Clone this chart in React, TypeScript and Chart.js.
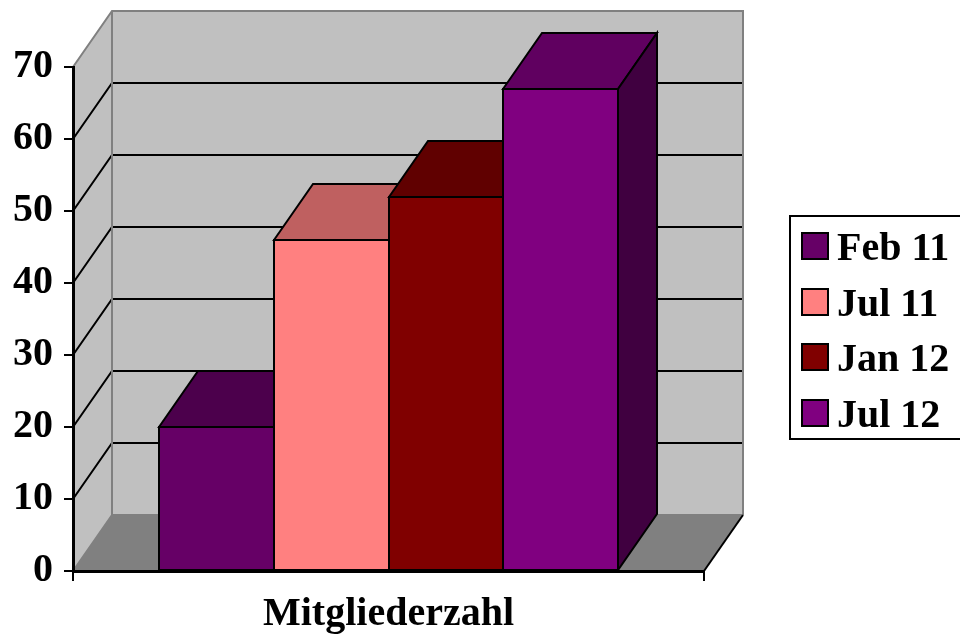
import React, { useEffect, useRef } from "react";
import { Chart, registerables } from "chart.js";

Chart.register(...registerables);

const categories = ["Mitgliederzahl"];
const seriesLabels = ["Feb 11", "Jul 11", "Jan 12", "Jul 12"];
const feb11 = [20];
const jul11 = [46];
const jan12 = [52];
const jul12 = [67];
const seriesValues = [feb11, jul11, jan12, jul12];
const frontColors = ["#660066", "#FF8080", "#800000", "#800080"];
const topColors = ["#4C004C", "#BF6060", "#600000", "#600060"];
const sideColors = ["#330033", "#804040", "#400000", "#400040"];
const yMin = 0;
const yMax = 70;
const yStep = 10;

const DX = 39;
const DY = 56;
const FONT = '"Liberation Serif", "Times New Roman", serif';

const wallsPlugin = {
  id: "walls3d",
  beforeDraw(chart: any) {
    const { ctx, chartArea } = chart;
    const { left, right, top, bottom } = chartArea;
    const yScale = chart.scales.y;
    ctx.save();
    ctx.fillStyle = "#C0C0C0";
    ctx.fillRect(left + DX, top - DY, right - left, bottom - top);
    ctx.beginPath();
    ctx.moveTo(left, top);
    ctx.lineTo(left + DX, top - DY);
    ctx.lineTo(left + DX, bottom - DY);
    ctx.lineTo(left, bottom);
    ctx.closePath();
    ctx.fill();
    ctx.fillStyle = "#808080";
    ctx.beginPath();
    ctx.moveTo(left, bottom);
    ctx.lineTo(left + DX, bottom - DY);
    ctx.lineTo(right + DX, bottom - DY);
    ctx.lineTo(right, bottom);
    ctx.closePath();
    ctx.fill();
    ctx.strokeStyle = "#000";
    ctx.lineWidth = 2;
    for (let v = yMin + yStep; v < yMax; v += yStep) {
      const py = Math.round(yScale.getPixelForValue(v));
      ctx.beginPath();
      ctx.moveTo(left, py);
      ctx.lineTo(left + DX, py - DY);
      ctx.lineTo(right + DX, py - DY);
      ctx.stroke();
    }
    ctx.strokeStyle = "#808080";
    ctx.lineWidth = 2;
    ctx.beginPath();
    ctx.moveTo(left, top);
    ctx.lineTo(left + DX, top - DY);
    ctx.lineTo(right + DX, top - DY);
    ctx.lineTo(right + DX, bottom - DY);
    ctx.moveTo(left + DX, top - DY);
    ctx.lineTo(left + DX, bottom - DY);
    ctx.lineTo(right + DX, bottom - DY);
    ctx.moveTo(left, bottom);
    ctx.lineTo(left + DX, bottom - DY);
    ctx.stroke();
    ctx.strokeStyle = "#000";
    ctx.lineWidth = 2;
    ctx.beginPath();
    ctx.moveTo(right, bottom);
    ctx.lineTo(right + DX, bottom - DY);
    ctx.stroke();
    ctx.restore();
  },
  afterDatasetsDraw(chart: any) {
    const { ctx } = chart;
    ctx.save();
    ctx.strokeStyle = "#000";
    ctx.lineWidth = 2;
    ctx.lineJoin = "miter";
    for (let i = 0; i < seriesValues.length; i++) {
      const meta = chart.getDatasetMeta(i);
      meta.data.forEach((el: any) => {
        const { x, y, base, width } = el.getProps(["x", "y", "base", "width"], true);
        const l = Math.round(x - width / 2);
        const r = Math.round(x + width / 2);
        const ty = Math.round(y);
        ctx.fillStyle = frontColors[i];
        ctx.beginPath();
        ctx.rect(l, ty, r - l, base - ty);
        ctx.fill();
        ctx.stroke();
        ctx.fillStyle = topColors[i];
        ctx.beginPath();
        ctx.moveTo(l, ty);
        ctx.lineTo(l + DX, ty - DY);
        ctx.lineTo(r + DX, ty - DY);
        ctx.lineTo(r, ty);
        ctx.closePath();
        ctx.fill();
        ctx.stroke();
        ctx.fillStyle = sideColors[i];
        ctx.beginPath();
        ctx.moveTo(r, ty);
        ctx.lineTo(r + DX, ty - DY);
        ctx.lineTo(r + DX, base - DY);
        ctx.lineTo(r, base);
        ctx.closePath();
        ctx.fill();
        ctx.stroke();
      });
    }
    ctx.restore();
  },
  afterDraw(chart: any) {
    const { ctx } = chart;
    ctx.save();
    const bx = 790, by = 216, bw = 175, bh = 223;
    ctx.fillStyle = "#fff";
    ctx.fillRect(bx, by, bw, bh);
    ctx.strokeStyle = "#000";
    ctx.lineWidth = 2;
    ctx.strokeRect(bx, by, bw, bh);
    ctx.font = `bold 40px ${FONT}`;
    ctx.textBaseline = "alphabetic";
    ctx.textAlign = "left";
    for (let i = 0; i < seriesLabels.length; i++) {
      const sy = Math.round(233 + i * 55.7);
      ctx.fillStyle = frontColors[i];
      ctx.fillRect(802, sy, 26, 26);
      ctx.lineWidth = 2;
      ctx.strokeRect(802, sy, 26, 26);
      ctx.fillStyle = "#000";
      ctx.fillText(chart.data.datasets[i].label, 837, sy + 27);
    }
    ctx.restore();
  },
};

export default function App() {
  const ref = useRef<HTMLCanvasElement>(null);
  useEffect(() => {
    if (!ref.current) return;
    const chart = new Chart(ref.current, {
      type: "bar",
      data: {
        labels: categories,
        datasets: seriesLabels.map((label, i) => ({
          label,
          data: seriesValues[i],
          backgroundColor: frontColors[i],
          borderWidth: 0,
          categoryPercentage: 0.727,
          barPercentage: 1,
        })),
      },
      options: {
        animation: false,
        responsive: false,
        devicePixelRatio: 1,
        layout: { padding: { left: 0, right: 256, top: 67, bottom: 0 } },
        plugins: {
          legend: { display: false },
          tooltip: { enabled: false },
          title: { display: false },
        },
        scales: {
          x: {
            type: "category",
            grid: {
              display: true,
              drawOnChartArea: false,
              drawTicks: true,
              tickLength: 10,
              color: "#000",
              lineWidth: 2,
              offset: true,
            },
            border: { display: true, color: "#000", width: 3 },
            ticks: {
              color: "#000",
              font: { family: FONT, size: 40, weight: "bold" },
              padding: 10,
            },
            afterFit(scale: any) {
              scale.height = 64;
            },
          },
          y: {
            min: yMin,
            max: yMax,
            grid: {
              display: true,
              drawOnChartArea: false,
              drawTicks: true,
              tickLength: 9,
              color: "#000",
              lineWidth: 2,
            },
            border: { display: true, color: "#000", width: 3 },
            ticks: {
              stepSize: yStep,
              color: "#000",
              font: { family: FONT, size: 40, weight: "bold" },
              padding: 11,
            },
            afterFit(scale: any) {
              scale.width = 73;
            },
          },
        },
      },
      plugins: [wallsPlugin],
    } as any);
    return () => chart.destroy();
  }, []);
  return (
    <div style={{ position: "fixed", left: 0, top: 0, width: 960, height: 635, background: "#fff" }}>
      <canvas ref={ref} width={960} height={635} style={{ display: "block" }} />
    </div>
  );
}
